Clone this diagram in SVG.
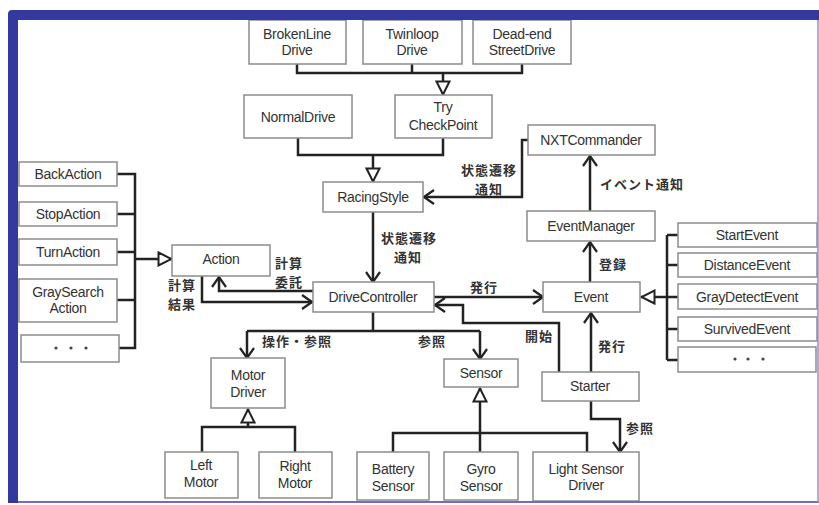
<svg xmlns="http://www.w3.org/2000/svg" width="819" height="505" viewBox="0 0 819 505">
  <style>
    .box { fill: #fff; stroke: #8c8c8c; stroke-width: 1.5; }
    .lbl { font-family: "Liberation Sans", Arial, sans-serif; font-size: 14px; fill: #333; text-anchor: middle; dominant-baseline: central; letter-spacing: -0.3px; }
    .jp { font-family: "Noto Sans CJK JP", "Noto Sans", sans-serif; font-size: 13px; font-weight: bold; fill: #333; dominant-baseline: central; letter-spacing: 1px; }
    .c { text-anchor: middle; }
    .ln { fill: none; stroke: #222; stroke-width: 2.5; }
    .dot { fill: #444; }
  </style>
  <defs>
    <marker id="open" viewBox="0 0 12 16" refX="11" refY="8" markerWidth="12" markerHeight="16" markerUnits="userSpaceOnUse" orient="auto">
      <path d="M1,1 L11,8 L1,15" fill="none" stroke="#222" stroke-width="2.2"/>
    </marker>
    <marker id="tri" viewBox="0 0 16 16" refX="15" refY="8" markerWidth="16" markerHeight="16" markerUnits="userSpaceOnUse" orient="auto">
      <path d="M1.5,1.5 L14.5,8 L1.5,14.5 Z" fill="#fff" stroke="#222" stroke-width="2"/>
    </marker>
  </defs>

  <rect width="819" height="505" fill="#fff"/>

  <!-- connectors -->
  <g id="connectors">
    <!-- drive variants to TryCheckPoint -->
    <path class="ln" d="M297,64 V73 H522 V64 M412,64 V73"/>
    <path class="ln" d="M443,73 V95" marker-end="url(#tri)"/>
    <!-- NormalDrive / TryCheckPoint to RacingStyle -->
    <path class="ln" d="M298,138 V155 H443 V138"/>
    <path class="ln" d="M373,155 V182" marker-end="url(#tri)"/>
    <!-- RacingStyle to DriveController -->
    <path class="ln" d="M373,212 V282" marker-end="url(#open)"/>
    <!-- NXTCommander to RacingStyle -->
    <path class="ln" d="M528,140 H522 V197 H424" marker-end="url(#open)"/>
    <!-- EventManager to NXTCommander -->
    <path class="ln" d="M590,211 V156" marker-end="url(#open)"/>
    <!-- Event to EventManager -->
    <path class="ln" d="M590,282 V242" marker-end="url(#open)"/>
    <!-- DriveController to Event -->
    <path class="ln" d="M434,297 H543" marker-end="url(#open)"/>
    <!-- Starter to DriveController -->
    <path class="ln" d="M559,372 V323 H463 V305 H435" marker-end="url(#open)"/>
    <!-- Starter to Event -->
    <path class="ln" d="M591,372 V313" marker-end="url(#open)"/>
    <!-- Starter to Light Sensor Driver -->
    <path class="ln" d="M591,401 V419 H620 V452" marker-end="url(#open)"/>
    <!-- Event subclasses -->
    <path class="ln" d="M667,235 V360 M667,235 H678 M667,265 H678 M667,297 H678 M667,329 H678 M667,360 H678"/>
    <path class="ln" d="M667,297 H641" marker-end="url(#tri)"/>
    <!-- Action subclasses -->
    <path class="ln" d="M117,174 H135 V348 H119 M117,214 H135 M117,252 H135 M117,300 H135"/>
    <path class="ln" d="M135,259 H172" marker-end="url(#tri)"/>
    <!-- DriveController to Action -->
    <path class="ln" d="M313,291 H219 V277" marker-end="url(#open)"/>
    <!-- Action to DriveController -->
    <path class="ln" d="M202,276 V302 H312" marker-end="url(#open)"/>
    <!-- DriveController to Motor Driver / Sensor -->
    <path class="ln" d="M373,312 V331 M247,331 H480"/>
    <path class="ln" d="M247,331 V358" marker-end="url(#open)"/>
    <path class="ln" d="M480,331 V359" marker-end="url(#open)"/>
    <!-- Motor Driver subclasses -->
    <path class="ln" d="M202,452 V427 H295 V452"/>
    <path class="ln" d="M248,427 V409" marker-end="url(#tri)"/>
    <!-- Sensor subclasses -->
    <path class="ln" d="M393,452 V433 H587 V452 M480,433 V452"/>
    <path class="ln" d="M480,433 V388" marker-end="url(#tri)"/>
  </g>

  <!-- connector labels -->
  <g id="labels">
    <text class="jp c" x="489" y="169">状態遷移</text>
    <text class="jp c" x="489" y="188">通知</text>
    <text class="jp" x="600" y="183">イベント通知</text>
    <text class="jp c" x="409" y="237">状態遷移</text>
    <text class="jp c" x="408" y="256">通知</text>
    <text class="jp c" x="289" y="262">計算</text>
    <text class="jp c" x="289" y="281">委託</text>
    <text class="jp c" x="182" y="284">計算</text>
    <text class="jp c" x="182" y="303">結果</text>
    <text class="jp c" x="484" y="286">発行</text>
    <text class="jp c" x="613" y="263">登録</text>
    <text class="jp c" x="539" y="335">開始</text>
    <text class="jp c" x="612" y="345">発行</text>
    <text class="jp" x="262" y="340">操作・参照</text>
    <text class="jp c" x="432" y="340">参照</text>
    <text class="jp c" x="640" y="427">参照</text>
  </g>

  <!-- nodes -->
  <g id="BrokenLineDrive"><rect class="box" x="249" y="20" width="97" height="44"/><text class="lbl" x="297" y="34">BrokenLine</text><text class="lbl" x="297" y="50">Drive</text></g>
  <g id="TwinloopDrive"><rect class="box" x="363" y="20" width="99" height="44"/><text class="lbl" x="412" y="34">Twinloop</text><text class="lbl" x="412" y="50">Drive</text></g>
  <g id="DeadEndStreetDrive"><rect class="box" x="473" y="20" width="98" height="44"/><text class="lbl" x="522" y="34">Dead-end</text><text class="lbl" x="522" y="50">StreetDrive</text></g>
  <g id="NormalDrive"><rect class="box" x="244" y="95" width="108" height="43"/><text class="lbl" x="298" y="117">NormalDrive</text></g>
  <g id="TryCheckPoint"><rect class="box" x="395" y="95" width="97" height="43"/><text class="lbl" x="443" y="107">Try</text><text class="lbl" x="443" y="125">CheckPoint</text></g>
  <g id="RacingStyle"><rect class="box" x="323" y="182" width="100" height="30"/><text class="lbl" x="373" y="197">RacingStyle</text></g>
  <g id="NXTCommander"><rect class="box" x="528" y="125" width="127" height="30"/><text class="lbl" x="591" y="140">NXTCommander</text></g>
  <g id="EventManager"><rect class="box" x="527" y="211" width="128" height="30"/><text class="lbl" x="591" y="226">EventManager</text></g>
  <g id="Event"><rect class="box" x="543" y="282" width="97" height="30"/><text class="lbl" x="591" y="297">Event</text></g>
  <g id="DriveController"><rect class="box" x="313" y="282" width="121" height="30"/><text class="lbl" x="373" y="297">DriveController</text></g>
  <g id="Action"><rect class="box" x="172" y="245" width="98" height="31"/><text class="lbl" x="221" y="259">Action</text></g>
  <g id="BackAction"><rect class="box" x="19" y="162" width="98" height="24"/><text class="lbl" x="68" y="174">BackAction</text></g>
  <g id="StopAction"><rect class="box" x="19" y="202" width="98" height="24"/><text class="lbl" x="68" y="214">StopAction</text></g>
  <g id="TurnAction"><rect class="box" x="19" y="239" width="98" height="26"/><text class="lbl" x="68" y="252">TurnAction</text></g>
  <g id="GraySearchAction"><rect class="box" x="19" y="279" width="98" height="43"/><text class="lbl" x="68" y="292">GraySearch</text><text class="lbl" x="68" y="308">Action</text></g>
  <g id="MoreActions"><rect class="box" x="21" y="335" width="98" height="27"/><circle class="dot" cx="56" cy="348" r="1.6"/><circle class="dot" cx="71" cy="348" r="1.6"/><circle class="dot" cx="86" cy="348" r="1.6"/></g>
  <g id="StartEvent"><rect class="box" x="678" y="223" width="139" height="24"/><text class="lbl" x="747" y="235">StartEvent</text></g>
  <g id="DistanceEvent"><rect class="box" x="678" y="253" width="139" height="24"/><text class="lbl" x="747" y="265">DistanceEvent</text></g>
  <g id="GrayDetectEvent"><rect class="box" x="678" y="284" width="139" height="25"/><text class="lbl" x="747" y="297">GrayDetectEvent</text></g>
  <g id="SurvivedEvent"><rect class="box" x="678" y="317" width="139" height="24"/><text class="lbl" x="747" y="329">SurvivedEvent</text></g>
  <g id="MoreEvents"><rect class="box" x="678" y="347" width="138" height="25"/><circle class="dot" cx="735" cy="359" r="1.6"/><circle class="dot" cx="748" cy="359" r="1.6"/><circle class="dot" cx="763" cy="359" r="1.6"/></g>
  <g id="MotorDriver"><rect class="box" x="211" y="358" width="74" height="50"/><text class="lbl" x="248" y="375">Motor</text><text class="lbl" x="248" y="392">Driver</text></g>
  <g id="Sensor"><rect class="box" x="444" y="359" width="74" height="28"/><text class="lbl" x="481" y="373">Sensor</text></g>
  <g id="Starter"><rect class="box" x="542" y="372" width="97" height="29"/><text class="lbl" x="590" y="386">Starter</text></g>
  <g id="LeftMotor"><rect class="box" x="165" y="452" width="73" height="46"/><text class="lbl" x="201" y="465">Left</text><text class="lbl" x="201" y="482">Motor</text></g>
  <g id="RightMotor"><rect class="box" x="259" y="452" width="73" height="46"/><text class="lbl" x="295" y="466">Right</text><text class="lbl" x="295" y="483">Motor</text></g>
  <g id="BatterySensor"><rect class="box" x="357" y="452" width="72" height="48"/><text class="lbl" x="393" y="469">Battery</text><text class="lbl" x="393" y="486">Sensor</text></g>
  <g id="GyroSensor"><rect class="box" x="444" y="452" width="74" height="48"/><text class="lbl" x="481" y="469">Gyro</text><text class="lbl" x="481" y="486">Sensor</text></g>
  <g id="LightSensorDriver"><rect class="box" x="533" y="452" width="106" height="49"/><text class="lbl" x="586" y="469">Light Sensor</text><text class="lbl" x="586" y="485">Driver</text></g>

  <!-- frame -->
  <g id="frame">
    <path d="M8,503 V14 Q8,10 12,10 H819 V20 H18 V503 Z" fill="#33399e"/>
    <line x1="18" y1="502" x2="819" y2="502" stroke="#6a6fc6" stroke-width="2"/>
    <line x1="818" y1="20" x2="818" y2="503" stroke="#8e90dd" stroke-width="1.5"/>
  </g>
</svg>
